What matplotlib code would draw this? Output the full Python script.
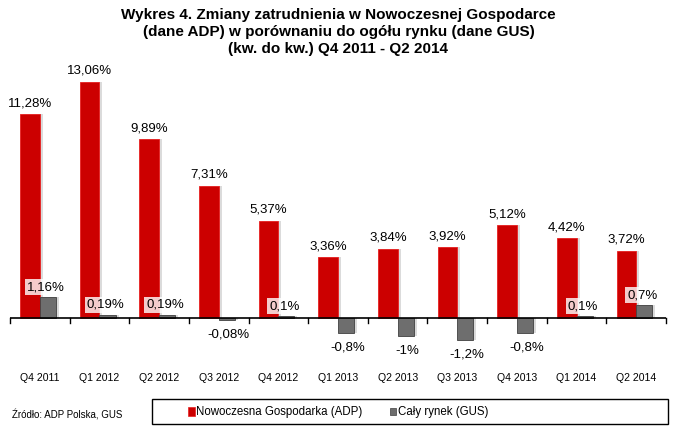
import matplotlib
matplotlib.use("Agg")
import matplotlib.pyplot as plt
from matplotlib.patches import Rectangle
import matplotlib.transforms as mtransforms
import numpy as np

plt.rcParams['font.family'] = ['Liberation Sans', 'DejaVu Sans']

categories = ["Q4 2011", "Q1 2012", "Q2 2012", "Q3 2012", "Q4 2012", "Q1 2013",
              "Q2 2013", "Q3 2013", "Q4 2013", "Q1 2014", "Q2 2014"]
adp = [11.28, 13.06, 9.89, 7.31, 5.37, 3.36, 3.84, 3.92, 5.12, 4.42, 3.72]
gus = [1.16, 0.19, 0.19, -0.08, 0.1, -0.8, -1.0, -1.2, -0.8, 0.1, 0.7]
adp_labels = ["11,28%", "13,06%", "9,89%", "7,31%", "5,37%", "3,36%", "3,84%",
              "3,92%", "5,12%", "4,42%", "3,72%"]
gus_labels = ["1,16%", "0,19%", "0,19%", "-0,08%", "0,1%", "-0,8%", "-1%",
              "-1,2%", "-0,8%", "0,1%", "0,7%"]

W, H = 677, 430
fig = plt.figure(figsize=(W / 100, H / 100), dpi=100)
ax = fig.add_axes([10 / W, (H - 362) / H, 656 / W, 292 / H])
ax.set_xlim(0, len(categories))
ax.set_ylim(-2.43, 13.72)
ax.axis('off')

x = np.arange(len(categories)) + 0.5
rw, gw = 0.33, 0.27
red_c = x - rw / 2
gray_c = x + gw / 2

# shadows
ax.bar(red_c + 0.05, adp, width=rw, color='#b0b0b0', alpha=0.45, zorder=1, linewidth=0)
ax.bar(gray_c + 0.05, gus, width=gw, color='#b0b0b0', alpha=0.45, zorder=1, linewidth=0)
# bars
ax.bar(red_c, adp, width=rw, color='#CC0000', edgecolor='#E82020', linewidth=0.6, zorder=2)
ax.bar(gray_c, gus, width=gw, color='#6E6E6E', edgecolor='#404040', linewidth=0.6, zorder=2)

# axis line and ticks
ax.axhline(0, color='black', linewidth=1.2, zorder=3)
for b in range(len(categories) + 1):
    ax.plot([b, b], [0, -0.28], color='black', linewidth=1, zorder=3, clip_on=False)

off = mtransforms.offset_copy
for i in range(len(categories)):
    ax.text(red_c[i], adp[i], adp_labels[i], ha='center', va='bottom', fontsize=9.5,
            transform=off(ax.transData, fig=fig, x=0, y=5, units='dots'), zorder=4)
    if gus[i] >= 0:
        ax.text(gray_c[i] - 0.03, gus[i], gus_labels[i], ha='center', va='bottom', fontsize=9.5,
                transform=off(ax.transData, fig=fig, x=0, y=4, units='dots'), zorder=4,
                bbox=dict(boxstyle='square,pad=0.15', facecolor='white', alpha=0.8, edgecolor='none'))
    else:
        ax.text(gray_c[i] + 0.03, gus[i], gus_labels[i], ha='center', va='top', fontsize=9.5,
                transform=off(ax.transData, fig=fig, x=0, y=-9, units='dots'), zorder=4)
    ax.text(x[i], (H - 378) / H, categories[i], ha='center', va='center', fontsize=7.6,
            transform=mtransforms.blended_transform_factory(ax.transData, fig.transFigure))

fig.text(0.5, 1 - 32 / H,
         "Wykres 4. Zmiany zatrudnienia w Nowoczesnej Gospodarce\n"
         "(dane ADP) w porównaniu do ogółu rynku (dane GUS)\n"
         "(kw. do kw.) Q4 2011 - Q2 2014",
         ha='center', va='center', fontsize=11, fontweight='bold', linespacing=1.3)

fig.text(12 / W, 1 - 415 / H, "Źródło: ADP Polska, GUS", ha='left', va='center', fontsize=7)

# legend box
fig.patches.append(Rectangle((152 / W, 1 - 424 / H), 516 / W, 25 / H, transform=fig.transFigure,
                             facecolor='white', edgecolor='black', linewidth=1))
fig.patches.append(Rectangle((188 / W, 1 - 416 / H), 7 / W, 9 / H, transform=fig.transFigure,
                             facecolor='#CC0000', edgecolor='#E82020', linewidth=0.5))
fig.text(196 / W, 1 - 411.5 / H, "Nowoczesna Gospodarka (ADP)", ha='left', va='center',
         fontsize=8.3)
fig.patches.append(Rectangle((390 / W, 1 - 415 / H), 6 / W, 7 / H, transform=fig.transFigure,
                             facecolor='#6E6E6E', edgecolor='#404040', linewidth=0.5))
fig.text(398 / W, 1 - 411.5 / H, "Cały rynek (GUS)", ha='left', va='center',
         fontsize=8.3)

fig.savefig("out.png", dpi=100)
